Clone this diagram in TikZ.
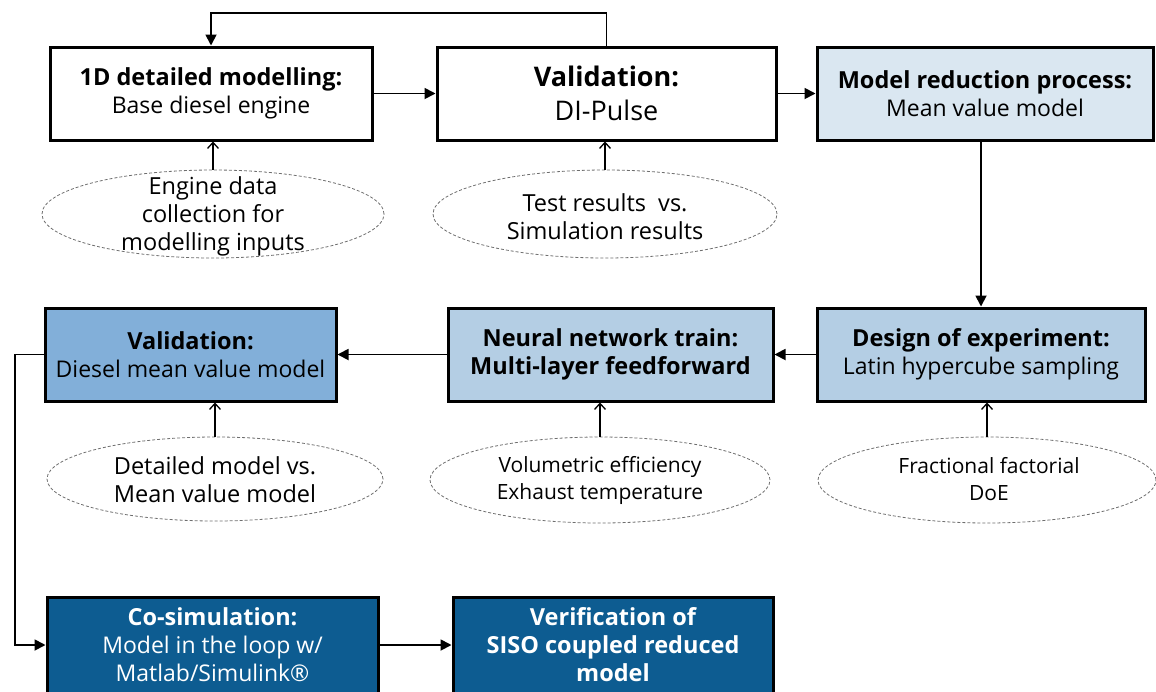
\documentclass[tikz,border=0pt]{standalone}
\usepackage{fontspec}
\setmainfont{Open Sans}
\usetikzlibrary{arrows.meta,shapes.geometric,calc}
\definecolor{paleblue}{RGB}{218,231,241}
\definecolor{lightblue}{RGB}{180,206,228}
\definecolor{midblue}{RGB}{130,175,217}
\definecolor{darkblue}{RGB}{13,92,145}
\definecolor{ovalgray}{RGB}{110,110,110}
% bold heading line inside a process box
\newcommand\boxhead[1]{{\fontsize{23.5}{28}\selectfont\bfseries #1}}
\begin{document}
\begin{tikzpicture}[x=1pt,y=-1pt,
  box/.style={draw=black, line width=3pt, rectangle, align=center, inner sep=0pt,
              minimum height=93pt, font=\fontsize{23}{28}\selectfont},
  bigbox/.style={box, font=\fontsize{27}{34}\selectfont},
  darkbox/.style={box, fill=darkblue, text=white, minimum height=96pt},
  oval/.style={draw=ovalgray, ellipse, inner sep=0pt, line width=0.8pt,
               dash pattern=on 3pt off 2pt},
  note/.style={align=center, inner sep=0pt, font=\fontsize{23.5}{28}\selectfont},
  smallnote/.style={note, font=\fontsize{21}{27}\selectfont},
  conn/.style={line width=1.8pt, -{Triangle[length=11pt,width=11pt]}},
  feed/.style={line width=1.6pt, -{Straight Barb[length=6pt,width=11pt,line width=1.3pt]}}
]
\useasboundingbox (0,0) rectangle (1156,691);
\clip (0,0) rectangle (1156,691);

% first row: detailed model and its validation
\node[box, minimum width=322pt] (b1) at (211,93.5)
  {\boxhead{1D detailed modelling:}\\Base diesel engine};
\node[bigbox, minimum width=339pt] (b2) at (606.5,93.5)
  {\textbf{Validation:}\\DI-Pulse};
\node[box, fill=paleblue, minimum width=336pt] (b3) at (985,93.5)
  {\boxhead{Model reduction process:}\\Mean value model};

% second row: reduced model chain
\node[box, fill=midblue, minimum width=291pt] (b4) at (190.5,354.5)
  {\boxhead{Validation:}\\Diesel mean value model};
\node[box, fill=lightblue, minimum width=325pt] (b5) at (610.5,354.5)
  {\boxhead{Neural network train:}\\\boxhead{Multi-layer feedforward}};
\node[box, fill=lightblue, minimum width=328pt] (b6) at (981,354.5)
  {\boxhead{Design of experiment:}\\Latin hypercube sampling};

% third row: co-simulation
\node[darkbox, minimum width=331pt] (b7) at (212.5,645)
  {\boxhead{Co-simulation:}\\Model in the loop w/\\Matlab/Simulink®};
\node[darkbox, minimum width=320pt] (b8) at (613,645)
  {\boxhead{Verification of}\\\boxhead{SISO coupled reduced}\\\boxhead{model}};

% dashed input ovals
\node[oval, minimum width=342pt, minimum height=88pt] (e1) at (213,214) {};
\node[note] (t1) at (213,216) {Engine data\\collection for\\modelling inputs};
\node[oval, minimum width=344pt, minimum height=88pt] (e2) at (605,214) {};
\node[note] (t2) at (605,217) {Test results\ \ vs.\\Simulation results};
\node[oval, minimum width=336pt, minimum height=84pt] (e3) at (215,479) {};
\node[note] (t3) at (215,480) {Detailed model vs.\\Mean value model};
\node[oval, minimum width=340pt, minimum height=86pt] (e4) at (600,480) {};
\node[smallnote] (t4) at (600,480) {Volumetric efficiency\\Exhaust temperature};
\node[oval, minimum width=338pt, minimum height=86pt] (e5) at (987,480) {};
\node[smallnote] (t5) at (989,479) {Fractional factorial\\DoE};

% inputs feeding the boxes
\draw[feed] (e1.north) -- (e1.north |- b1.south);
\draw[feed] (e2.north) -- (e2.north |- b2.south);
\draw[feed] (e3.north) -- (e3.north |- b4.south);
\draw[feed] (e4.north) -- (e4.north |- b5.south);
\draw[feed] (e5.north) -- (e5.north |- b6.south);

% process flow
\coordinate (loopTop) at (0,13);
\coordinate (loopLeft) at (15,0);
\draw[conn] (b1) -- (b2);
\draw[conn] (b2.north) -- (b2.north |- loopTop) -| (b1.north);
\draw[conn] (b2) -- (b3);
\draw[conn] (b6.north |- b3.south) -- (b6.north);
\draw[conn] (b6) -- (b5);
\draw[conn] (b5) -- (b4);
\draw[conn] (b4.west) -- (b4.west -| loopLeft) |- (b7.west);
\draw[conn] (b7) -- (b8);
\end{tikzpicture}
\end{document}
